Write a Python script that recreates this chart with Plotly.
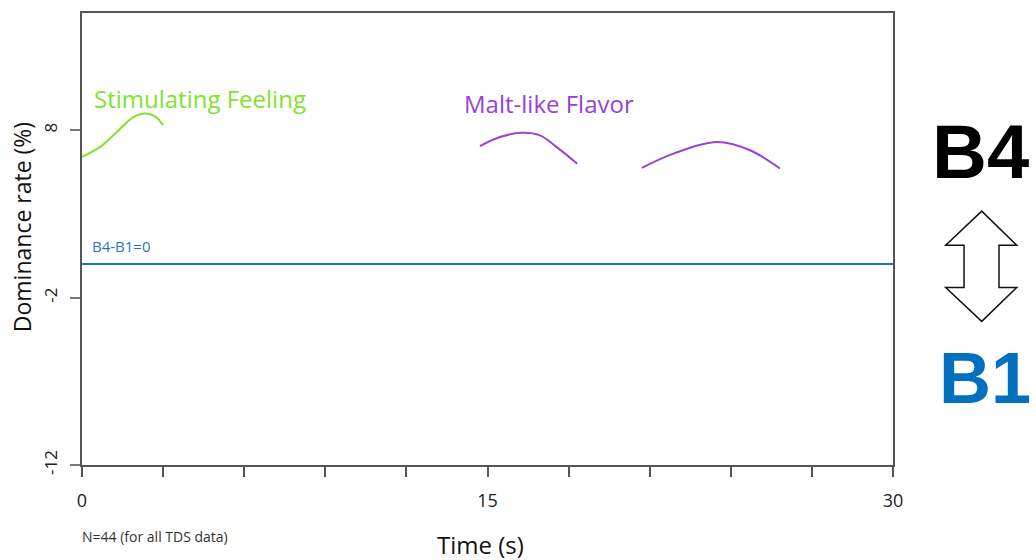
import plotly.graph_objects as go

# ---- data ----
stim_t = [0.0, 0.67, 1.28, 1.89, 2.33, 2.70, 3.0]
stim_v = [6.4, 7.0, 7.88, 8.77, 9.0, 8.83, 8.3]

malt1_t = [14.72, 15.46, 16.27, 16.94, 17.56, 18.32]
malt1_v = [7.05, 7.59, 7.84, 7.69, 6.99, 6.0]

malt2_t = [20.71, 21.88, 23.48, 24.71, 25.82]
malt2_v = [5.75, 6.6, 7.29, 6.8, 5.71]

baseline_t = [0, 30]
baseline_v = [0, 0]

x_tickvals = [0, 3, 6, 9, 12, 15, 18, 21, 24, 27, 30]
x_ticktext = ["0", "", "", "", "", "15", "", "", "", "", "30"]
y_tickvals = [8, -2, -12]
y_ticktext = ["8", "-2", "-12"]

GREEN = "#80E32E"
PURPLE = "#9B42D4"
BLUE_LINE = "#1F77C6"
BLUE_TEXT = "#0070C0"
FONT = "Open Sans"

fig = go.Figure()
fig.add_trace(go.Scatter(x=baseline_t, y=baseline_v, mode="lines",
                         line=dict(color=BLUE_LINE, width=2), hoverinfo="skip"))
fig.add_trace(go.Scatter(x=stim_t, y=stim_v, mode="lines",
                         line=dict(color=GREEN, width=2, shape="spline")))
fig.add_trace(go.Scatter(x=malt1_t, y=malt1_v, mode="lines",
                         line=dict(color=PURPLE, width=2, shape="spline")))
fig.add_trace(go.Scatter(x=malt2_t, y=malt2_v, mode="lines",
                         line=dict(color=PURPLE, width=2, shape="spline")))

ann = []
ann.append(dict(text="Stimulating Feeling", x=0.0123, y=0.81, xref="paper", yref="paper",
                xanchor="left", yanchor="middle", showarrow=False,
                font=dict(family=FONT, size=24, color=GREEN)))
ann.append(dict(text="Malt-like Flavor", x=0.4686, y=0.80, xref="paper", yref="paper",
                xanchor="left", yanchor="middle", showarrow=False,
                font=dict(family=FONT, size=24, color=PURPLE)))
ann.append(dict(text="B4-B1=0", x=0.0099, y=0.4846, xref="paper", yref="paper",
                xanchor="left", yanchor="middle", showarrow=False,
                font=dict(family=FONT, size=15, color=BLUE_LINE)))
ann.append(dict(text="<b>B4</b>", x=1.1073, y=0.6938, xref="paper", yref="paper",
                xanchor="center", yanchor="middle", showarrow=False,
                font=dict(family="Liberation Sans", size=76, color="#000000")))
ann.append(dict(text="<b>B1</b>", x=1.1134, y=0.1916, xref="paper", yref="paper",
                xanchor="center", yanchor="middle", showarrow=False,
                font=dict(family="Liberation Sans", size=72, color=BLUE_TEXT)))
ann.append(dict(text="Dominance rate (%)", x=-0.074, y=0.526, xref="paper", yref="paper",
                xanchor="center", yanchor="middle", showarrow=False, textangle=-90,
                font=dict(family=FONT, size=23, color="#111111")))
ann.append(dict(text="Time (s)", x=0.4908, y=-0.176, xref="paper", yref="paper",
                xanchor="center", yanchor="middle", showarrow=False,
                font=dict(family=FONT, size=24, color="#111111")))
ann.append(dict(text="N=44 (for all TDS data)", x=-0.0025, y=-0.1586, xref="paper", yref="paper",
                xanchor="left", yanchor="middle", showarrow=False,
                font=dict(family=FONT, size=14, color="#333333")))

# double-headed outline arrow (paper coords)
arrow_path = ("M 1.1094 0.5617 L 1.1525 0.4861 L 1.1307 0.4861 L 1.1307 0.3927 "
              "L 1.1525 0.3927 L 1.1094 0.3178 L 1.0650 0.3927 L 1.0876 0.3927 "
              "L 1.0876 0.4861 L 1.0650 0.4861 Z")

fig.update_layout(
    width=1036, height=560,
    margin=dict(l=82, r=143, t=11, b=95),
    paper_bgcolor="white", plot_bgcolor="white",
    showlegend=False,
    annotations=ann,
    shapes=[dict(type="path", path=arrow_path, xref="paper", yref="paper",
                 line=dict(color="#111111", width=1.5), fillcolor="white")],
    xaxis=dict(range=[0, 30], tickvals=x_tickvals, ticktext=x_ticktext,
               ticks="outside", ticklen=10, tickcolor="#555555", tickwidth=2,
               ticklabelstandoff=8,
               showline=True, linecolor="#555555", linewidth=2, mirror=True,
               showgrid=False, zeroline=False,
               tickfont=dict(family=FONT, size=18, color="#222222")),
    yaxis=dict(range=[-12, 15], tickvals=y_tickvals, ticktext=y_ticktext,
               ticks="outside", ticklen=10, tickcolor="#777777", tickwidth=2,
               tickangle=-90, ticklabelstandoff=6,
               showline=True, linecolor="#555555", linewidth=2, mirror=True,
               showgrid=False, zeroline=False,
               tickfont=dict(family=FONT, size=17, color="#222222")),
)

fig.write_html("out.html", config={"displayModeBar": False},
               post_script="document.body.style.margin='0';")
